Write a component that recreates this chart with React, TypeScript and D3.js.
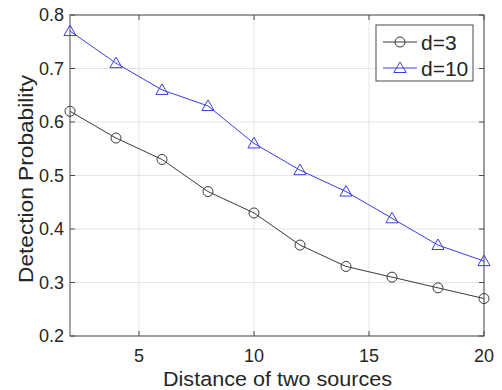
import React, { useEffect, useRef } from "react";
import * as d3 from "d3";

const distances = [2, 4, 6, 8, 10, 12, 14, 16, 18, 20];
const probD3 = [0.62, 0.57, 0.53, 0.47, 0.43, 0.37, 0.33, 0.31, 0.29, 0.27];
const probD10 = [0.77, 0.71, 0.66, 0.63, 0.56, 0.51, 0.47, 0.42, 0.37, 0.34];
const xTicks = [5, 10, 15, 20];
const yTicks = [0.2, 0.3, 0.4, 0.5, 0.6, 0.7, 0.8];
const seriesNames = ["d=3", "d=10"];

const W = 502;
const H = 390;
const FONT = "'Liberation Sans', Arial, sans-serif";

export default function App() {
  const ref = useRef<SVGSVGElement>(null);

  useEffect(() => {
    const svg = d3.select(ref.current);
    svg.selectAll("*").remove();

    const margin = { top: 15, right: 18, bottom: 54, left: 70 };
    const x = d3.scaleLinear().domain([2, 20]).range([margin.left, W - margin.right]);
    const y = d3.scaleLinear().domain([0.2, 0.8]).range([H - margin.bottom, margin.top]);
    const [x0, x1] = x.range();
    const [y0, y1] = y.range();

    svg.append("rect").attr("width", W).attr("height", H).attr("fill", "#fff");

    // grid
    const grid = svg.append("g").attr("stroke", "#e5e5e5").attr("stroke-width", 1);
    xTicks.forEach((t) => {
      grid.append("line").attr("x1", x(t)).attr("x2", x(t)).attr("y1", y0).attr("y2", y1);
    });
    yTicks.forEach((t) => {
      grid.append("line").attr("x1", x0).attr("x2", x1).attr("y1", y(t)).attr("y2", y(t));
    });

    // axes box + inward ticks
    const ax = svg.append("g").attr("stroke", "#4a4a4a").attr("stroke-width", 1).attr("fill", "none");
    ax.append("rect").attr("x", x0).attr("y", y1).attr("width", x1 - x0).attr("height", y0 - y1);
    const tl = 5;
    xTicks.forEach((t) => {
      ax.append("line").attr("x1", x(t)).attr("x2", x(t)).attr("y1", y0).attr("y2", y0 - tl);
      ax.append("line").attr("x1", x(t)).attr("x2", x(t)).attr("y1", y1).attr("y2", y1 + tl);
    });
    yTicks.forEach((t) => {
      ax.append("line").attr("x1", x0).attr("x2", x0 + tl).attr("y1", y(t)).attr("y2", y(t));
      ax.append("line").attr("x1", x1).attr("x2", x1 - tl).attr("y1", y(t)).attr("y2", y(t));
    });

    // tick labels
    const lab = svg.append("g").attr("font-family", FONT).attr("font-size", 18).attr("fill", "#262626");
    xTicks.forEach((t) => {
      lab.append("text").attr("x", x(t)).attr("y", y0 + 26).attr("text-anchor", "middle").text(t);
    });
    yTicks.forEach((t) => {
      lab.append("text").attr("x", x0 - 6).attr("y", y(t)).attr("dy", "0.36em").attr("text-anchor", "end").text(t.toFixed(1));
    });

    // axis titles
    svg.append("text")
      .attr("x", 163).attr("y", H - 4)
      .attr("textLength", 229).attr("lengthAdjust", "spacingAndGlyphs")
      .attr("font-family", FONT).attr("font-size", 20).attr("fill", "#262626")
      .text("Distance of two sources");
    svg.append("text")
      .attr("transform", `translate(33,283) rotate(-90)`)
      .attr("textLength", 208).attr("lengthAdjust", "spacingAndGlyphs")
      .attr("font-family", FONT).attr("font-size", 20).attr("fill", "#262626")
      .text("Detection Probability");

    const black = "#3a3a3a";
    const blue = "#3c3ce6";
    const line = d3.line<number>().x((_, i) => x(distances[i])).y((v) => y(v));
    const tri = d3.symbol().type(d3.symbolTriangle).size(64);

    svg.append("path").attr("d", line(probD3)).attr("fill", "none").attr("stroke", black).attr("stroke-width", 1);
    svg.append("path").attr("d", line(probD10)).attr("fill", "none").attr("stroke", blue).attr("stroke-width", 1);

    svg.append("g").selectAll("circle").data(probD3).join("circle")
      .attr("cx", (_, i) => x(distances[i])).attr("cy", (v) => y(v)).attr("r", 5)
      .attr("fill", "none").attr("stroke", black).attr("stroke-width", 1);
    svg.append("g").selectAll("path").data(probD10).join("path")
      .attr("d", tri)
      .attr("transform", (v, i) => `translate(${x(distances[i])},${y(v) + 1})`)
      .attr("fill", "none").attr("stroke", blue).attr("stroke-width", 1);

    // legend
    const lg = svg.append("g").attr("transform", "translate(376,25)");
    lg.append("rect").attr("width", 97).attr("height", 56).attr("fill", "#fff").attr("stroke", "#4a4a4a");
    seriesNames.forEach((name, i) => {
      const cy = 17 + i * 26;
      const col = i === 0 ? black : blue;
      lg.append("line").attr("x1", 7).attr("x2", 41).attr("y1", cy).attr("y2", cy).attr("stroke", col);
      if (i === 0) {
        lg.append("circle").attr("cx", 24).attr("cy", cy).attr("r", 5).attr("fill", "none").attr("stroke", col);
      } else {
        lg.append("path").attr("d", tri).attr("transform", `translate(24,${cy + 1})`).attr("fill", "none").attr("stroke", col);
      }
      lg.append("text").attr("x", 45).attr("y", cy).attr("dy", "0.36em")
        .attr("font-family", FONT).attr("font-size", 21).attr("fill", "#262626").text(name);
    });
  }, []);

  return (
    <svg ref={ref} width={W} height={H} style={{ position: "absolute", left: 0, top: 0 }} />
  );
}
